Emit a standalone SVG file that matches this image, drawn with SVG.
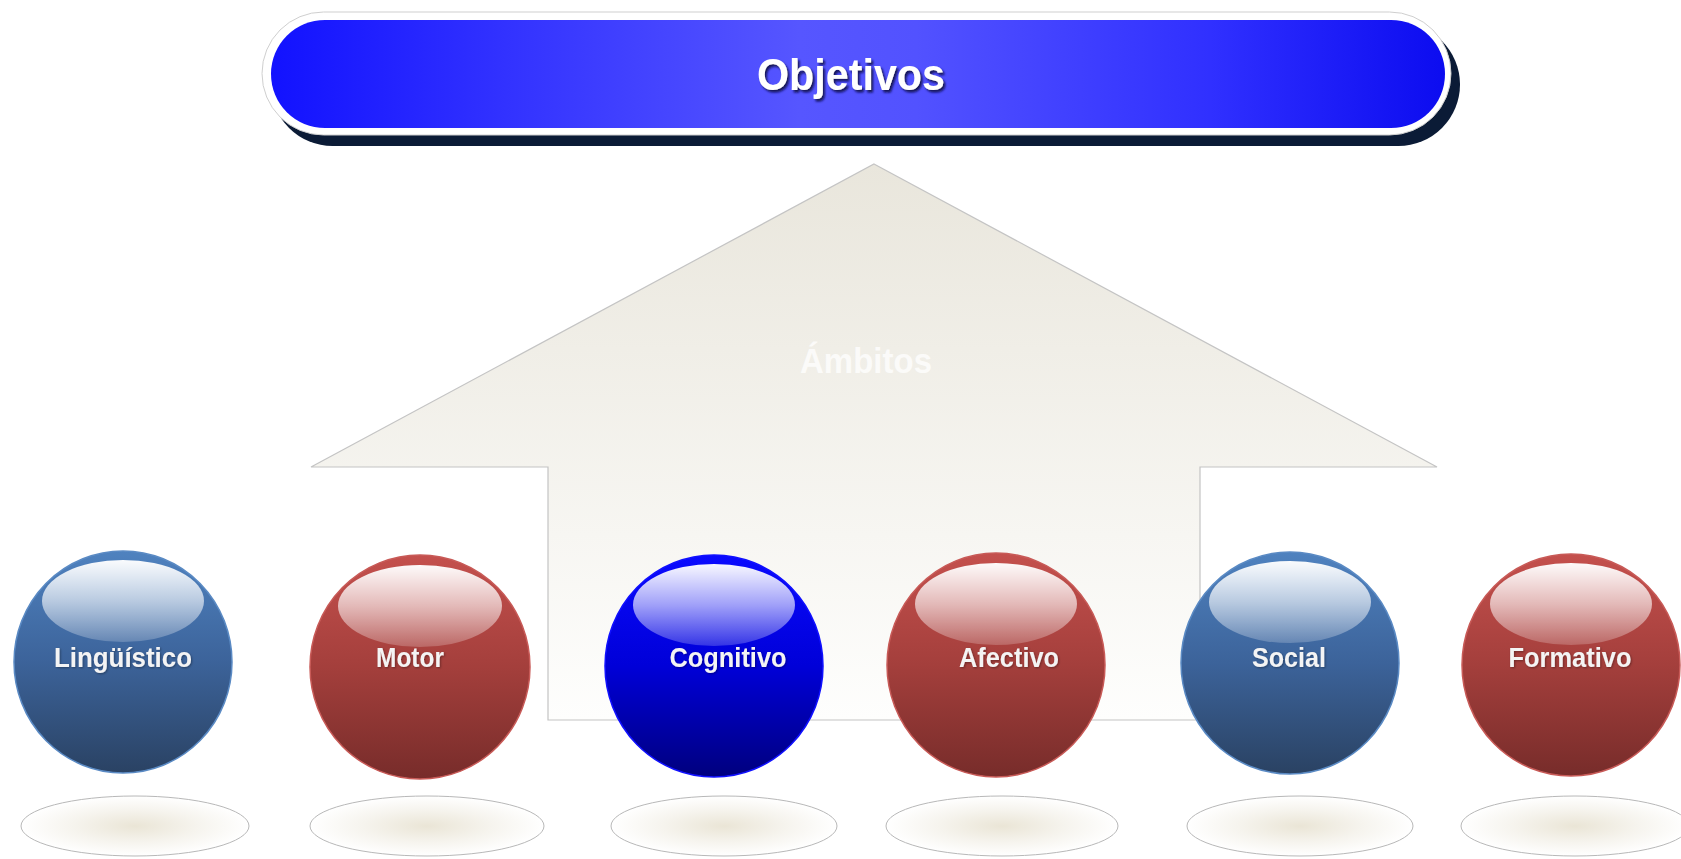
<svg xmlns="http://www.w3.org/2000/svg" width="1681" height="859" viewBox="0 0 1681 859">
<defs>
<style>
.lbl{font-family:"Liberation Sans",Arial,sans-serif;font-weight:bold;font-size:28px;fill:#f4f4f4;text-anchor:middle}
.title{font-family:"Liberation Sans",Arial,sans-serif;font-weight:bold;font-size:44px;fill:#ffffff;text-anchor:middle}
.amb{font-family:"Liberation Sans",Arial,sans-serif;font-weight:bold;font-size:35px;fill:#ffffff;fill-opacity:0.75;text-anchor:middle}
.floor{fill:url(#floorG);stroke:#b8b8b8;stroke-width:1}
.hl{fill:url(#hlG)}
.bs{fill:url(#blueG);stroke:#5a8ac4;stroke-width:1.5}
.rs{fill:url(#redG);stroke:#c85a57;stroke-width:1.5}
.cs{fill:url(#cogG);stroke:#1010ff;stroke-width:1.5}
</style>
<linearGradient id="barG" x1="0" y1="0" x2="1" y2="0">
<stop offset="0" stop-color="#1212ff"/>
<stop offset="0.2" stop-color="#3232ff"/>
<stop offset="0.45" stop-color="#5656ff"/>
<stop offset="0.55" stop-color="#5252ff"/>
<stop offset="0.8" stop-color="#3030ff"/>
<stop offset="1" stop-color="#0c0cf0"/>
</linearGradient>
<linearGradient id="arrowG" x1="0" y1="164" x2="0" y2="720" gradientUnits="userSpaceOnUse">
<stop offset="0" stop-color="#e9e6dc"/>
<stop offset="1" stop-color="#fefefd"/>
</linearGradient>
<linearGradient id="blueG" x1="0" y1="0" x2="0" y2="1">
<stop offset="0" stop-color="#4f82bf"/>
<stop offset="0.5" stop-color="#3c639a"/>
<stop offset="1" stop-color="#2a4263"/>
</linearGradient>
<linearGradient id="redG" x1="0" y1="0" x2="0" y2="1">
<stop offset="0" stop-color="#c4504d"/>
<stop offset="0.5" stop-color="#a43f3c"/>
<stop offset="1" stop-color="#772c2a"/>
</linearGradient>
<linearGradient id="cogG" x1="0" y1="0" x2="0" y2="1">
<stop offset="0" stop-color="#0a0aff"/>
<stop offset="0.5" stop-color="#0000d8"/>
<stop offset="1" stop-color="#00007e"/>
</linearGradient>
<linearGradient id="hlG" x1="0" y1="0" x2="0" y2="1">
<stop offset="0" stop-color="#ffffff" stop-opacity="0.97"/>
<stop offset="0.5" stop-color="#ffffff" stop-opacity="0.62"/>
<stop offset="1" stop-color="#ffffff" stop-opacity="0.2"/>
</linearGradient>
<radialGradient id="floorG" cx="0.5" cy="0.5" r="0.5">
<stop offset="0" stop-color="#eae5d6"/>
<stop offset="0.55" stop-color="#f6f4ee"/>
<stop offset="1" stop-color="#ffffff"/>
</radialGradient>
<filter id="tsh" x="-10%" y="-20%" width="130%" height="150%">
<feDropShadow dx="2" dy="2.5" stdDeviation="1" flood-color="#10104a" flood-opacity="0.9"/>
</filter>
<filter id="lsh" x="-10%" y="-20%" width="130%" height="150%">
<feDropShadow dx="1" dy="1" stdDeviation="0.8" flood-color="#000000" flood-opacity="0.35"/>
</filter>
</defs>
<rect width="1681" height="859" fill="#ffffff"/>

<g id="ambitos-arrow">
<polygon points="874,164 1437,467 1200,467 1200,720 548,720 548,467 311,467" fill="url(#arrowG)" stroke="#c4c4c4" stroke-width="1.2"/>
<text class="amb" x="866" y="373" textLength="132" lengthAdjust="spacingAndGlyphs">Ámbitos</text>
</g>

<g id="objetivos">
<rect x="271" y="23" width="1189" height="123" rx="61.5" fill="#0b1b36"/>
<rect x="262" y="12" width="1189" height="123" rx="61.5" fill="#ffffff" stroke="#cfcfcf" stroke-width="1"/>
<rect x="271" y="20" width="1174" height="108" rx="54" fill="url(#barG)"/>
<text class="title" x="851" y="90" textLength="188" lengthAdjust="spacingAndGlyphs" filter="url(#tsh)">Objetivos</text>
</g>

<g id="connectors"></g>

<g id="linguistico">
<ellipse class="floor" cx="135" cy="826" rx="114" ry="30"/>
<g transform="translate(123,662)">
<ellipse class="bs" rx="109" ry="111"/>
<ellipse class="hl" cx="0" cy="-61" rx="81" ry="41"/>
<text class="lbl" x="0" y="5" textLength="138" lengthAdjust="spacingAndGlyphs" filter="url(#lsh)">Lingüístico</text>
</g>
</g>

<g id="motor">
<ellipse class="floor" cx="427" cy="826" rx="117" ry="30"/>
<g transform="translate(420,667)">
<ellipse class="rs" rx="110" ry="112"/>
<ellipse class="hl" cx="0" cy="-61" rx="82" ry="41"/>
<text class="lbl" x="-10" y="0" textLength="68" lengthAdjust="spacingAndGlyphs" filter="url(#lsh)">Motor</text>
</g>
</g>

<g id="cognitivo">
<ellipse class="floor" cx="724" cy="826" rx="113" ry="30"/>
<g transform="translate(714,666)">
<ellipse class="cs" rx="109" ry="111"/>
<ellipse class="hl" cx="0" cy="-61" rx="81" ry="41"/>
<text class="lbl" x="14" y="1" textLength="117" lengthAdjust="spacingAndGlyphs" filter="url(#lsh)">Cognitivo</text>
</g>
</g>

<g id="afectivo">
<ellipse class="floor" cx="1002" cy="826" rx="116" ry="30"/>
<g transform="translate(996,665)">
<ellipse class="rs" rx="109" ry="112"/>
<ellipse class="hl" cx="0" cy="-61" rx="81" ry="41"/>
<text class="lbl" x="13" y="2" textLength="100" lengthAdjust="spacingAndGlyphs" filter="url(#lsh)">Afectivo</text>
</g>
</g>

<g id="social">
<ellipse class="floor" cx="1300" cy="826" rx="113" ry="30"/>
<g transform="translate(1290,663)">
<ellipse class="bs" rx="109" ry="111"/>
<ellipse class="hl" cx="0" cy="-61" rx="81" ry="41"/>
<text class="lbl" x="-1" y="4" textLength="74" lengthAdjust="spacingAndGlyphs" filter="url(#lsh)">Social</text>
</g>
</g>

<g id="formativo">
<ellipse class="floor" cx="1575" cy="826" rx="114" ry="30"/>
<g transform="translate(1571,665)">
<ellipse class="rs" rx="109" ry="111"/>
<ellipse class="hl" cx="0" cy="-61" rx="81" ry="41"/>
<text class="lbl" x="-1" y="2" textLength="123" lengthAdjust="spacingAndGlyphs" filter="url(#lsh)">Formativo</text>
</g>
</g>
</svg>
